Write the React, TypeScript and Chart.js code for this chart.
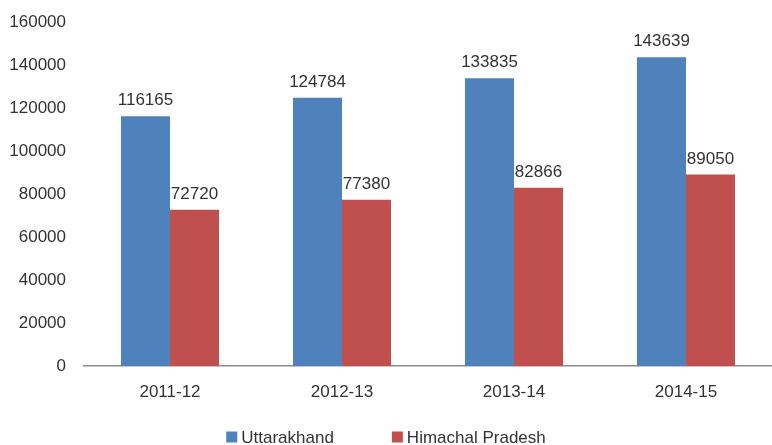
import React, { useEffect, useRef } from "react";
import { Chart, registerables } from "chart.js";

Chart.register(...registerables);

const categories = ["2011-12", "2012-13", "2013-14", "2014-15"];
const uttarakhand = [116165, 124784, 133835, 143639];
const himachal = [72720, 77380, 82866, 89050];
const seriesNames = ["Uttarakhand", "Himachal Pradesh"];
const seriesColors = ["#4F81BD", "#C0504D"];
const yTicksMax = 160000;
const yTickStep = 20000;

const FONT = "'Liberation Sans', Arial, sans-serif";
const TEXT_COLOR = "#333333";

const valueLabels = {
  id: "valueLabels",
  afterDatasetsDraw(chart: any) {
    const ctx = chart.ctx;
    ctx.save();
    ctx.font = `17px ${FONT}`;
    ctx.fillStyle = TEXT_COLOR;
    ctx.textAlign = "center";
    ctx.textBaseline = "alphabetic";
    chart.data.datasets.forEach((ds: any, i: number) => {
      const meta = chart.getDatasetMeta(i);
      meta.data.forEach((bar: any, j: number) => {
        ctx.fillText(String(ds.data[j]), bar.x, bar.y - 11);
      });
    });
    ctx.restore();
  },
};

const customLegend = {
  id: "customLegend",
  afterDraw(chart: any) {
    const ctx = chart.ctx;
    ctx.save();
    ctx.font = `17px ${FONT}`;
    const box = 11;
    const boxGap = 4;
    const itemGap = 58;
    const items = chart.data.datasets.map((ds: any) => ({
      label: ds.label,
      color: ds.backgroundColor,
      w: box + boxGap + ctx.measureText(ds.label).width,
    }));
    const total = items.reduce((s: number, it: any) => s + it.w, 0) + itemGap * (items.length - 1);
    let x = (chart.width - total) / 2;
    const y = 437;
    items.forEach((it: any) => {
      ctx.fillStyle = it.color;
      ctx.fillRect(x, y - box / 2, box, box);
      ctx.fillStyle = TEXT_COLOR;
      ctx.textAlign = "left";
      ctx.textBaseline = "middle";
      ctx.fillText(it.label, x + box + boxGap, y + 1);
      x += it.w + itemGap;
    });
    ctx.restore();
  },
};

export default function App() {
  const ref = useRef<HTMLCanvasElement>(null);
  useEffect(() => {
    if (!ref.current) return;
    const chart = new Chart(ref.current, {
      type: "bar",
      data: {
        labels: categories,
        datasets: [
          { label: seriesNames[0], data: uttarakhand, backgroundColor: seriesColors[0] },
          { label: seriesNames[1], data: himachal, backgroundColor: seriesColors[1] },
        ],
      },
      options: {
        responsive: false,
        animation: false,
        events: [],
        layout: { padding: { top: 22, left: 0, right: 0, bottom: 26 } },
        datasets: { bar: { categoryPercentage: 0.57, barPercentage: 1 } },
        plugins: { legend: { display: false }, tooltip: { enabled: false } },
        scales: {
          x: {
            grid: { display: false, drawTicks: false },
            border: { display: true, color: "#8c8c8c", width: 1.5 },
            ticks: { font: { family: FONT, size: 17 }, color: TEXT_COLOR, padding: 16 },
            afterFit(scale: any) {
              scale.height = 53;
            },
          },
          y: {
            min: 0,
            max: yTicksMax,
            grid: { display: false, drawTicks: false },
            border: { display: false },
            ticks: {
              stepSize: yTickStep,
              font: { family: FONT, size: 17 },
              color: TEXT_COLOR,
              padding: 18,
              callback: (v: any) => String(v),
            },
            afterFit(scale: any) {
              scale.width = 84;
              scale.paddingTop = 10;
              scale.paddingBottom = 10;
            },
          },
        },
      },
      plugins: [valueLabels, customLegend],
    });
    return () => chart.destroy();
  }, []);
  return (
    <div style={{ position: "fixed", left: 0, top: 0, width: 772, height: 445, overflow: "hidden", background: "#fff" }}>
      <canvas ref={ref} width={772} height={445} style={{ display: "block" }} />
    </div>
  );
}
